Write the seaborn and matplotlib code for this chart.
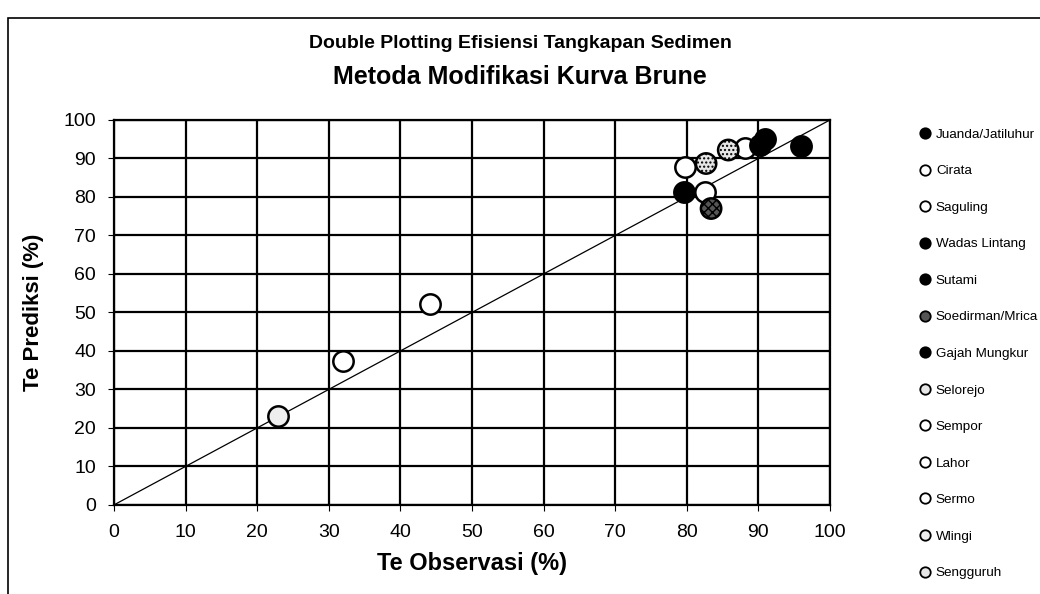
import matplotlib
matplotlib.use("Agg")
import matplotlib.pyplot as plt
import seaborn as sns
import pandas as pd
from matplotlib.lines import Line2D
from matplotlib.patches import Rectangle
from matplotlib.font_manager import FontProperties, fontManager

reservoirs = ["Juanda/Jatiluhur", "Cirata", "Saguling", "Wadas Lintang", "Sutami",
              "Soedirman/Mrica", "Gajah Mungkur", "Selorejo", "Sempor", "Lahor",
              "Sermo", "Wlingi", "Sengguruh"]
te_observasi = [91.0, 88.1, 82.5, 79.6, 95.9, 83.4, 90.2, 82.7, 44.2, 79.7, 32.0, 22.9, 85.8]
te_prediksi = [95.0, 92.6, 81.2, 81.2, 93.3, 77.0, 93.5, 88.7, 52.1, 87.9, 37.5, 23.0, 92.2]
fills = ["black", "white", "white", "black", "black", "#555555", "black", "#e6e6e6",
         "white", "white", "white", "#eeeeee", "#e6e6e6"]
hatches = ["", "", "", "", "", "xxxx", "", "....", "", "", "", "", "...."]

df = pd.DataFrame({"Reservoir": reservoirs, "Obs": te_observasi, "Pred": te_prediksi})

sns.set_style("white")
plt.rcParams["font.family"] = ["Liberation Sans", "DejaVu Sans"]
plt.rcParams["text.color"] = "black"
plt.rcParams["axes.labelcolor"] = "black"
plt.rcParams["xtick.color"] = "black"
plt.rcParams["ytick.color"] = "black"

installed = {f.name for f in fontManager.ttflist}
if "Liberation Sans Narrow" in installed:
    legend_font = FontProperties(family="Liberation Sans Narrow", size=12)
else:
    legend_font = FontProperties(family="Liberation Sans", size=9.7)

fig = plt.figure(figsize=(10.4, 5.94), dpi=100)
ax = fig.add_axes([0.1096, 0.150, 0.798 - 0.1096, 0.798 - 0.150])

# 1:1 line
sns.lineplot(x=[0, 100], y=[0, 100], ax=ax, color="black", linewidth=0.9)

for i, name in enumerate(reservoirs):
    sns.scatterplot(data=df.iloc[[i]], x="Obs", y="Pred", ax=ax, s=215,
                    color=fills[i], edgecolor="black", linewidth=1.8,
                    hatch=hatches[i] if hatches[i] else None, zorder=3, legend=False)

ax.set_xlim(0, 100)
ax.set_ylim(0, 100)
ax.set_xticks(range(0, 101, 10))
ax.set_yticks(range(0, 101, 10))
ax.grid(True, color="black", linewidth=1.6)
for sp in ax.spines.values():
    sp.set_color("black")
    sp.set_linewidth(1.6)
ax.tick_params(axis="both", labelsize=14, length=4, color="black", direction="out",
               left=True, bottom=True)
ax.tick_params(axis="x", pad=10)
ax.tick_params(axis="y", pad=9)
ax.set_xlabel("Te Observasi (%)", fontsize=17, fontweight="bold", labelpad=8)
ax.set_ylabel("Te Prediksi (%)", fontsize=16, fontweight="bold", labelpad=14)

fig.text(0.5, 1 - 43 / 594, "Double Plotting Efisiensi Tangkapan Sedimen",
         ha="center", va="center", fontsize=14, fontweight="bold")
fig.text(0.5, 1 - 77 / 594, "Metoda Modifikasi Kurva Brune",
         ha="center", va="center", fontsize=18, fontweight="bold")

handles = []
for i, name in enumerate(reservoirs):
    handles.append(Line2D([], [], linestyle="none", marker="o", markersize=7.5,
                          markerfacecolor=fills[i], markeredgecolor="black",
                          markeredgewidth=1.3, label=name))
fs = legend_font.get_size_in_points()
fig.legend(handles=handles, loc="upper left", bbox_to_anchor=(913 / 1040, 1 - 123 / 594),
           frameon=False, prop=legend_font,
           labelspacing=(36.5 * 72 / 100) / fs - 0.92, handletextpad=0.3,
           handlelength=1.0, borderaxespad=0)

# outer frame of the chart area
fig.patches.append(Rectangle((8 / 1040, -0.05), 1.2, 1 - 18 / 594 + 0.05,
                             transform=fig.transFigure, fill=False,
                             edgecolor="black", linewidth=1.2))

fig.savefig("out.png", dpi=100)
